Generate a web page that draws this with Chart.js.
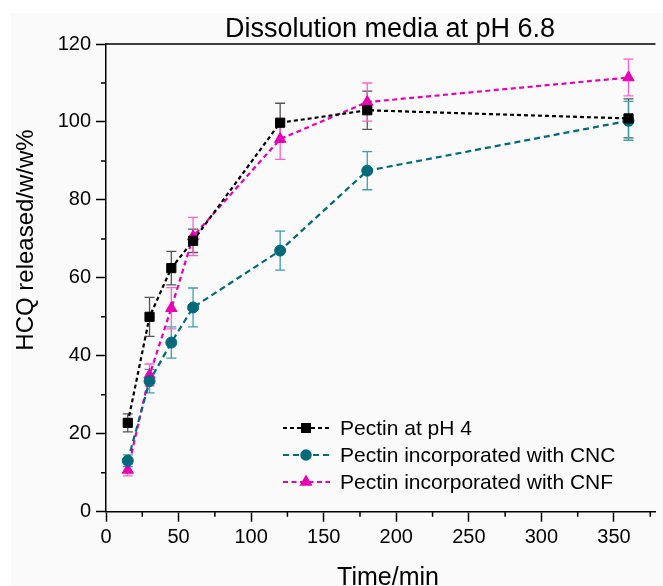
<!DOCTYPE html>
<html>
<head>
<meta charset="utf-8">
<script src="https://cdn.jsdelivr.net/npm/chart.js@4.4.0/dist/chart.umd.min.js"></script>
<style>
  html, body { margin: 0; padding: 0; background: #fff; }
  #wrap { position: absolute; left: 11px; top: 13px; width: 652px; height: 573px; background: #fafafa; }
</style>
</head>
<body>
<div id="wrap"><canvas id="chart"></canvas></div>
<script>
// Data
const times = [15, 30, 45, 60, 120, 180, 360];
const pectinPh4 = [22.8, 50.0, 62.5, 69.5, 99.8, 103.0, 100.9];
const pectinPh4Err = [2.3, 5.0, 4.3, 3.0, 5.0, 4.9, 5.0];
const pectinCnc = [13.1, 33.5, 43.4, 52.4, 67.0, 87.5, 100.3];
const pectinCncErr = [1.5, 3.0, 4.0, 5.0, 5.0, 4.9, 5.0];
const pectinCnf = [10.7, 35.1, 52.2, 70.6, 95.6, 105.1, 111.4];
const pectinCnfErr = [1.5, 2.8, 5.3, 4.9, 5.2, 4.9, 4.7];

const xTicks = [0, 50, 100, 150, 200, 250, 300, 350];
const xMinorTicks = [25, 75, 125, 175, 225, 275, 325, 375];
const yTicks = [0, 20, 40, 60, 80, 100, 120];
const yMinorTicks = [10, 30, 50, 70, 90, 110];

const FONT = "'Liberation Sans', Arial, sans-serif";

function toPoints(vals) {
    return vals.map((v, i) => ({ x: times[i], y: v }));
}

// error bars drawn under the markers
const errorBars = {
    id: 'errorBars',
    beforeDatasetsDraw(chart) {
        const { ctx, scales: { x, y } } = chart;
        chart.data.datasets.forEach(ds => {
            ctx.save();
            ctx.strokeStyle = ds.errColor;
            ctx.lineWidth = 1.3;
            ds.data.forEach((p, i) => {
                const px = x.getPixelForValue(p.x);
                const top = y.getPixelForValue(p.y + ds.err[i]);
                const bot = y.getPixelForValue(p.y - ds.err[i]);
                ctx.beginPath();
                ctx.moveTo(px, top); ctx.lineTo(px, bot);
                ctx.moveTo(px - 5, top); ctx.lineTo(px + 5, top);
                ctx.moveTo(px - 5, bot); ctx.lineTo(px + 5, bot);
                ctx.stroke();
            });
            ctx.restore();
        });
    }
};

// minor ticks, top frame, titles, legend
const decorations = {
    id: 'decorations',
    afterDraw(chart) {
        const { ctx, chartArea, scales: { x, y } } = chart;
        ctx.save();
        ctx.strokeStyle = '#000';
        ctx.lineWidth = 1.5;
        ctx.beginPath();
        xMinorTicks.forEach(v => {
            const px = x.getPixelForValue(v);
            ctx.moveTo(px, chartArea.bottom); ctx.lineTo(px, chartArea.bottom + 5);
        });
        yMinorTicks.forEach(v => {
            const py = y.getPixelForValue(v);
            ctx.moveTo(chartArea.left, py); ctx.lineTo(chartArea.left - 5, py);
        });
        ctx.moveTo(chartArea.left, chartArea.top); ctx.lineTo(chartArea.right, chartArea.top);
        ctx.stroke();

        ctx.fillStyle = '#000';
        ctx.textAlign = 'center';
        ctx.textBaseline = 'alphabetic';
        ctx.font = '27px ' + FONT;
        ctx.fillText('Dissolution media at pH 6.8', 379, 24);
        ctx.font = '25px ' + FONT;
        ctx.fillText('Time/min', 377, 572);
        ctx.save();
        ctx.translate(15, 227);
        ctx.rotate(-Math.PI / 2);
        ctx.font = '24px ' + FONT;
        ctx.textBaseline = 'middle';
        ctx.fillText('HCQ released/w/w%', 0, 0);
        ctx.restore();

        // legend
        ctx.font = '21px ' + FONT;
        ctx.textAlign = 'left';
        ctx.textBaseline = 'middle';
        chart.data.datasets.forEach((ds, i) => {
            const ly = 415 + i * 27;
            ctx.save();
            ctx.strokeStyle = ds.borderColor;
            ctx.lineWidth = ds.borderWidth;
            ctx.setLineDash(ds.borderDash);
            ctx.beginPath();
            ctx.moveTo(272, ly); ctx.lineTo(319, ly);
            ctx.stroke();
            ctx.restore();
            ctx.fillStyle = ds.borderColor;
            ctx.strokeStyle = ds.borderColor;
            Chart.helpers.drawPoint(ctx, { pointStyle: ds.pointStyle, radius: ds.pointRadius - 0.5, rotation: 0, borderWidth: 1 }, 295, ly);
            ctx.fillStyle = '#000';
            ctx.fillText(ds.label, 329, ly + 1);
        });
        ctx.restore();
    }
};

const axisFont = { family: FONT, size: 20 };

const ctx = document.getElementById('chart').getContext('2d');
const myChart = new Chart(ctx, {
    type: 'line',
    data: {
        datasets: [
            {
                label: 'Pectin at pH 4',
                data: toPoints(pectinPh4),
                err: pectinPh4Err,
                errColor: '#555555',
                borderColor: '#000000',
                backgroundColor: '#000000',
                borderDash: [4, 3],
                pointStyle: 'rect',
                pointRadius: 6.5
            },
            {
                label: 'Pectin incorporated with CNC',
                data: toPoints(pectinCnc),
                err: pectinCncErr,
                errColor: '#3c9eae',
                borderColor: '#006a7b',
                backgroundColor: '#006a7b',
                borderDash: [6, 4],
                pointStyle: 'circle',
                pointRadius: 5.5
            },
            {
                label: 'Pectin incorporated with CNF',
                data: toPoints(pectinCnf),
                err: pectinCnfErr,
                errColor: '#ff5fcf',
                borderColor: '#e800b4',
                backgroundColor: '#e800b4',
                borderDash: [5, 3.5],
                pointStyle: 'triangle',
                pointRadius: 6.5
            }
        ].map(ds => Object.assign({
            borderWidth: 2.2,
            pointBorderWidth: 1,
            pointBackgroundColor: ds.borderColor,
            pointBorderColor: ds.borderColor,
            tension: 0,
            fill: false
        }, ds))
    },
    options: {
        responsive: true,
        maintainAspectRatio: false,
        animation: false,
        layout: { padding: { top: 31 } },
        plugins: {
            legend: { display: false },
            tooltip: { enabled: false },
            title: { display: false }
        },
        scales: {
            x: {
                type: 'linear',
                min: 0,
                max: 378.6,
                afterBuildTicks: s => { s.ticks = xTicks.map(v => ({ value: v })); },
                afterFit: s => { s.height = 74.3; },
                border: { color: '#000', width: 1.5 },
                grid: { drawOnChartArea: false, tickLength: 10, tickWidth: 1.5, tickColor: '#000' },
                ticks: { color: '#000', font: axisFont, padding: 4, maxRotation: 0 }
            },
            y: {
                min: 0,
                max: 120,
                afterBuildTicks: s => { s.ticks = yTicks.map(v => ({ value: v })); },
                afterFit: s => { s.width = 95; },
                border: { color: '#000', width: 1.5 },
                grid: { drawOnChartArea: false, tickLength: 10, tickWidth: 1.5, tickColor: '#000' },
                ticks: { color: '#000', font: axisFont, padding: 5 }
            }
        }
    },
    plugins: [errorBars, decorations]
});
</script>
</body>
</html>
